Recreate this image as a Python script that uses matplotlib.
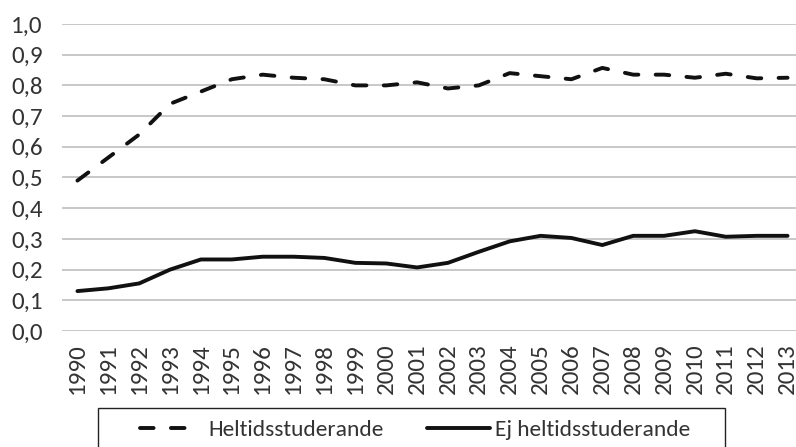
import matplotlib
matplotlib.use("Agg")
import matplotlib.pyplot as plt
from matplotlib.patches import Rectangle
import numpy as np

years = [str(y) for y in range(1990, 2014)]
heltid = [0.49, 0.565, 0.64, 0.74, 0.78, 0.82, 0.835, 0.825, 0.82, 0.80, 0.80, 0.81,
          0.79, 0.80, 0.84, 0.83, 0.82, 0.857, 0.835, 0.835, 0.825, 0.838, 0.823, 0.825]
ej_heltid = [0.13, 0.139, 0.155, 0.20, 0.233, 0.233, 0.242, 0.242, 0.238, 0.222, 0.22, 0.207,
             0.222, 0.258, 0.292, 0.31, 0.303, 0.28, 0.31, 0.31, 0.325, 0.307, 0.31, 0.31]
yticks = [0.0, 0.1, 0.2, 0.3, 0.4, 0.5, 0.6, 0.7, 0.8, 0.9, 1.0]
ytick_labels = ["0,0", "0,1", "0,2", "0,3", "0,4", "0,5", "0,6", "0,7", "0,8", "0,9", "1,0"]
series_names = ["Heltidsstuderande", "Ej heltidsstuderande"]

plt.rcParams["font.family"] = ["Carlito", "Lato", "DejaVu Sans"]
TEXT = "#333333"
INK = "#111111"
W, H = 796, 447

fig = plt.figure(figsize=(W / 100, H / 100), dpi=100)
ax = fig.add_axes([62 / W, 1 - 331 / H, (803 - 62) / W, (331 - 24) / H])

x = np.arange(len(years))
dash = (0, (3.5, 4.45))
line_a, = ax.plot(x, heltid, color=INK, lw=2.8, linestyle=dash, dash_capstyle="round",
                  dash_joinstyle="round", label=series_names[0])
line_b, = ax.plot(x, ej_heltid, color=INK, lw=2.8, solid_capstyle="round",
                  solid_joinstyle="round", label=series_names[1])

ax.set_xlim(-0.5, len(years) - 0.5)
ax.set_ylim(0, 1.0)
ax.set_yticks(yticks)
ax.set_yticklabels(ytick_labels, fontsize=18, color=TEXT)
ax.set_xticks(x)
ax.set_xticklabels(years, rotation=90, fontsize=18, color=TEXT)
ax.tick_params(axis="both", length=0)
ax.tick_params(axis="x", pad=9)
ax.tick_params(axis="y", pad=14)

ax.grid(axis="y", color="#bfbfbf", lw=1.2)
ax.set_axisbelow(True)
for s in ax.spines.values():
    s.set_visible(False)

# one legend entry per series so each handle gets its own length
legend_y = 1 - 430 / H
leg_a = fig.legend([line_a], [series_names[0]], loc="center left",
                   bbox_to_anchor=(140 / W, legend_y), frameon=False, fontsize=16.8,
                   handlelength=2.1, handletextpad=0.85, borderpad=0, borderaxespad=0)
leg_b = fig.legend([line_b], [series_names[1]], loc="center left",
                   bbox_to_anchor=(427 / W, legend_y), frameon=False, fontsize=16.8,
                   handlelength=2.7, handletextpad=0.2, borderpad=0, borderaxespad=0)
for leg in (leg_a, leg_b):
    for t in leg.get_texts():
        t.set_color(TEXT)

frame = Rectangle((98 / W, -0.05), (725 - 98) / W, 0.05 + (447 - 408) / H,
                  transform=fig.transFigure, fill=False, edgecolor="#222222",
                  lw=1.0, clip_on=False)
fig.add_artist(frame)

fig.savefig("out.png", dpi=100)
